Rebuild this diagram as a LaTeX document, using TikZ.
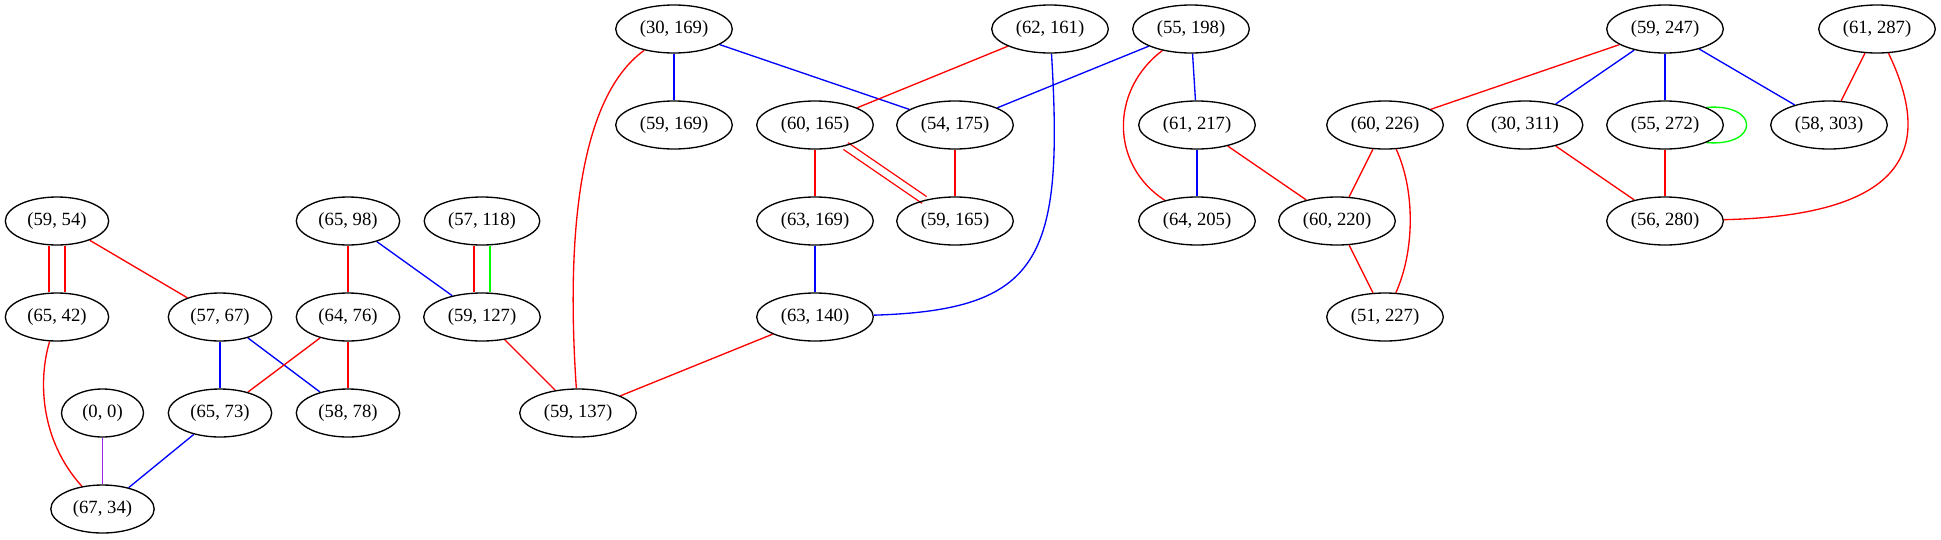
\documentclass[tikz,border=0pt]{standalone}
\usepackage{fontspec}
\setmainfont{Liberation Serif}
\usetikzlibrary{shapes.geometric}
\definecolor{gvred}{HTML}{FF0000}
\definecolor{gvblue}{HTML}{0000FF}
\definecolor{gvgreen}{HTML}{00FF00}
\definecolor{gvpurple}{HTML}{A020F0}
\pgfdeclarelayer{background}
\pgfsetlayers{background,main}
\begin{document}
\begin{tikzpicture}[x=1pt,y=-1pt,
  gnode/.style={ellipse,draw,line width=1.33pt,inner xsep=7pt,inner ysep=2pt,
    minimum width=82pt,minimum height=48pt,font=\fontsize{18.67}{22}\selectfont},
  ed/.style={line width=1.33pt},
  er/.style={ed,draw=gvred},
  eb/.style={ed,draw=gvblue},
  eg/.style={ed,draw=gvgreen},
  ep/.style={ed,draw=gvpurple}]
\useasboundingbox (0,0) rectangle (1941,539);
% row 1
\node[gnode] (a30x169) at (674,29) {(30, 169)};
\node[gnode] (a62x161) at (1050,29) {(62, 161)};
\node[gnode] (a55x198) at (1191,29) {(55, 198)};
\node[gnode] (a59x247) at (1665,29) {(59, 247)};
\node[gnode] (a61x287) at (1877,29) {(61, 287)};
% row 2
\node[gnode] (a59x169) at (674,125) {(59, 169)};
\node[gnode] (a60x165) at (815,125) {(60, 165)};
\node[gnode] (a54x175) at (955,125) {(54, 175)};
\node[gnode] (a61x217) at (1197,125) {(61, 217)};
\node[gnode] (a60x226) at (1385,125) {(60, 226)};
\node[gnode] (a30x311) at (1525,125) {(30, 311)};
\node[gnode] (a55x272) at (1665,125) {(55, 272)};
\node[gnode] (a58x303) at (1829,125) {(58, 303)};
% row 3
\node[gnode] (a59x54) at (57,221) {(59, 54)};
\node[gnode] (a65x98) at (348,221) {(65, 98)};
\node[gnode] (a57x118) at (482,221) {(57, 118)};
\node[gnode] (a63x169) at (815,221) {(63, 169)};
\node[gnode] (a59x165) at (955,221) {(59, 165)};
\node[gnode] (a64x205) at (1197,221) {(64, 205)};
\node[gnode] (a60x220) at (1337,221) {(60, 220)};
\node[gnode] (a56x280) at (1665,221) {(56, 280)};
% row 4
\node[gnode] (a65x42) at (57,317) {(65, 42)};
\node[gnode] (a57x67) at (220,317) {(57, 67)};
\node[gnode] (a64x76) at (348,317) {(64, 76)};
\node[gnode] (a59x127) at (482,317) {(59, 127)};
\node[gnode] (a63x140) at (815,317) {(63, 140)};
\node[gnode] (a51x227) at (1385,317) {(51, 227)};
% row 5
\node[gnode] (a0x0) at (102.5,413) {(0, 0)};
\node[gnode] (a65x73) at (220,413) {(65, 73)};
\node[gnode] (a58x78) at (348,413) {(58, 78)};
\node[gnode] (a59x137) at (578,413) {(59, 137)};
% row 6
\node[gnode] (a67x34) at (102.5,509) {(67, 34)};

\begin{pgfonlayer}{background}
% left part
\draw[er] ([xshift=-8pt]a59x54.south) -- ([xshift=-8pt]a65x42.north);
\draw[er] ([xshift=8pt]a59x54.south) -- ([xshift=8pt]a65x42.north);
\draw[er] (a59x54) -- (a57x67);
\draw[er] (a65x42) .. controls (38,380) and (40,440) .. (a67x34);
\draw[ep] (a0x0) -- (a67x34);
\draw[eb] (a57x67) -- (a65x73);
\draw[eb] (a57x67) -- (a58x78);
\draw[er] (a64x76) -- (a65x73);
\draw[er] (a64x76) -- (a58x78);
\draw[eb] (a65x73) -- (a67x34);
\draw[er] (a65x98) -- (a64x76);
\draw[eb] (a65x98) -- (a59x127);
\draw[er] ([xshift=-8pt]a57x118.south) -- ([xshift=-8pt]a59x127.north);
\draw[eg] ([xshift=8pt]a57x118.south) -- ([xshift=8pt]a59x127.north);
\draw[er] (a59x127) -- (a59x137);
% middle part
\draw[eb] (a30x169) -- (a59x169);
\draw[eb] (a30x169) -- (a54x175);
\draw[er] (a30x169) .. controls (575,100) and (567,250) .. (a59x137);
\draw[er] (a62x161) -- (a60x165);
\draw[eb] (a62x161) .. controls (1064,260) and (1040,310) .. (a63x140);
\draw[eb] (a55x198) -- (a54x175);
\draw[eb] (a55x198) -- (a61x217);
\draw[er] (a55x198) .. controls (1110,90) and (1110,165) .. (a64x205);
\draw[er] (a60x165) -- (a63x169);
\draw[ed,draw=gvred,double=white,double distance=6.7pt] (a60x165) -- (a59x165);
\draw[er] (a54x175) -- (a59x165);
\draw[eb] (a63x169) -- (a63x140);
\draw[er] (a63x140) -- (a59x137);
\draw[eb] (a61x217) -- (a64x205);
\draw[er] (a61x217) -- (a60x220);
\draw[er] (a60x226) -- (a60x220);
\draw[er] (a60x226) .. controls (1415,190) and (1415,250) .. (a51x227);
\draw[er] (a60x220) -- (a51x227);
% right part
\draw[er] (a59x247) -- (a60x226);
\draw[eb] (a59x247) -- (a30x311);
\draw[eb] (a59x247) -- (a55x272);
\draw[eb] (a59x247) -- (a58x303);
\draw[eg] (a55x272.23) .. controls (1760,103) and (1760,147) .. (a55x272.-23);
\draw[er] (a55x272) -- (a56x280);
\draw[er] (a30x311) -- (a56x280);
\draw[er] (a61x287) -- (a58x303);
\draw[er] (a61x287) .. controls (1925,130) and (1930,215) .. (a56x280);
\end{pgfonlayer}
\end{tikzpicture}
\end{document}
